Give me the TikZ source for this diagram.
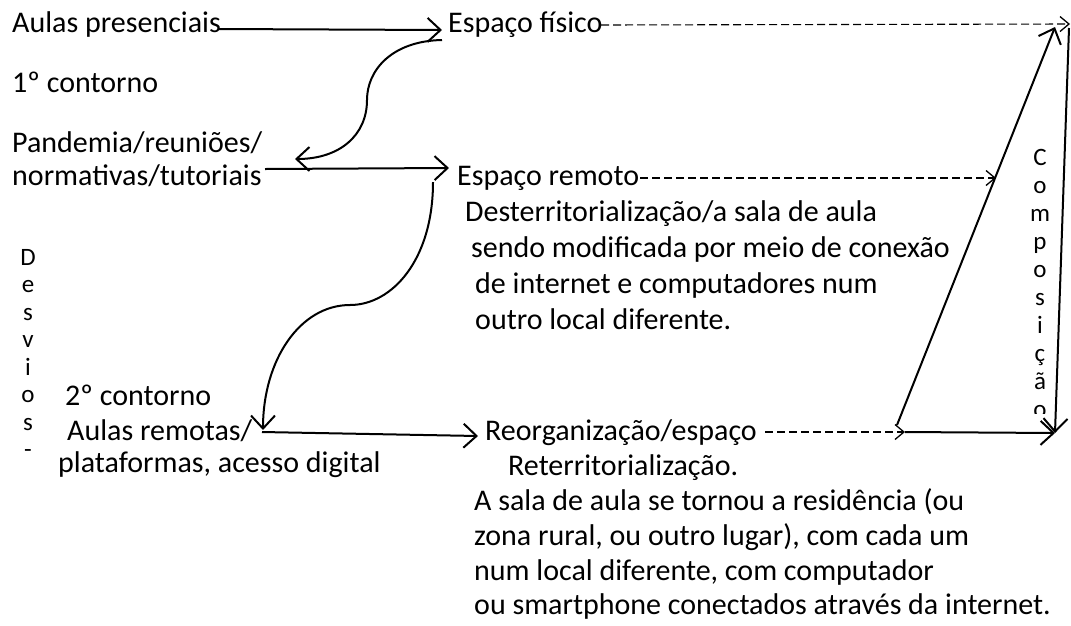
\documentclass[tikz,border=0pt]{standalone}
\usepackage{fontspec}
\setmainfont{Carlito}
\usetikzlibrary{arrows.meta}
\begin{document}
\begin{tikzpicture}[x=1pt,y=-1pt,
  txt/.style={anchor=base west,inner sep=0pt,font=\fontsize{30}{36}\selectfont},
  vl/.style={anchor=base,inner sep=0pt,font=\fontsize{25}{30}\selectfont},
  arr/.style={line width=2pt,-{Straight Barb[length=13pt,width=24pt,line width=2pt]}},
  darr/.style={line width=1.1pt,dash pattern=on 8pt off 4pt,-{Straight Barb[length=9pt,width=15pt,line width=1.3pt,sep=0pt]}}]
\useasboundingbox (0,0) rectangle (1071,625);
% texts
\node[txt] (aulas) at (12,32) {Aulas presenciais};
\node[txt] (fisico) at (448,32) {Espaço físico};
\node[txt] (c1) at (12,92) {1º contorno};
\node[txt] (pand1) at (12,152) {Pandemia/reuniões/};
\node[txt] (pand2) at (12,185) {normativas/tutoriais};
\node[txt] (remoto) at (457,185) {Espaço remoto};
\node[txt] (d1) at (465,221) {Desterritorialização/a sala de aula};
\node[txt] (d2) at (471,257) {sendo modificada por meio de conexão};
\node[txt] (d3) at (475,293) {de internet e computadores num};
\node[txt] (d4) at (475,329) {outro local diferente.};
\node[txt] (c2) at (65,405) {2º contorno};
\node[txt] (ar1) at (67,440) {Aulas remotas/};
\node[txt] (ar2) at (58,472) {plataformas, acesso digital};
\node[txt] (reorg) at (485,440) {Reorganização/espaço};
\node[txt] (r0) at (508,475) {Reterritorialização.};
\node[txt] (r1) at (474,510) {A sala de aula se tornou a residência (ou};
\node[txt] (r2) at (474,545) {zona rural, ou outro lugar), com cada um};
\node[txt] (r3) at (474,580) {num local diferente, com computador};
\node[txt] (r4) at (474,614) {ou smartphone conectados através da internet.};
% vertical labels
\begin{scope}
\clip (0,200) rectangle (50,450);
\foreach \ch [count=\i from 0] in {D,e,s,v,i,o,s,-}
  \node[vl] (desv\i) at (28,{265+27.5*\i}) {\ch};
\end{scope}
\begin{scope}
\clip (1020,140) rectangle (1060,413);
\foreach \ch [count=\i from 0] in {C,o,m,p,o,s,i,ç,ã,o}
  \node[vl] (comp\i) at (1040,{165+28*\i}) {\ch};
\end{scope}
% coordinates
\coordinate (aulasE) at (218,29);
\coordinate (fisicoW) at (442,30);
\coordinate (fisicoS) at (442,40);
\coordinate (pandE) at (295,159);
\coordinate (pand2E) at (265,169);
\coordinate (remotoW) at (449,168);
\coordinate (remotoS) at (433,182);
\coordinate (ar1N) at (263,430);
\coordinate (ar1E) at (262,432);
\coordinate (reorgW) at (478,436);
\coordinate (fisDashS) at (601,25);
\coordinate (fisDashEnd) at (1070,24);
\coordinate (remDashS) at (640,178);
\coordinate (remDashEnd) at (996,178);
\coordinate (reoDashS) at (765,432);
\coordinate (reoDashEnd) at (905,432);
\coordinate (kA) at (897,425);
\coordinate (kTop) at (1055,27);
\coordinate (kR) at (1069,28);
\coordinate (kBot) at (1055,433);
% connectors
\draw[arr] (aulasE) -- (fisicoW);
\draw[arr] (pand2E) -- (remotoW);
\draw[arr] (ar1E) -- (reorgW);
\draw[arr] (fisicoS) .. controls (392,41) and (367,70) .. (367,100) .. controls (367,135) and (340,159) .. (pandE);
\draw[arr] (remotoS) .. controls (433,260) and (392,305) .. (350,305) .. controls (300,305) and (263,360) .. (ar1N);
\draw[darr] (fisDashS) -- (fisDashEnd);
\draw[darr] (remDashS) -- (remDashEnd);
\draw[darr] (reoDashS) -- (reoDashEnd);
\draw[arr] (kA) -- (kTop);
\draw[arr] (reoDashEnd) -- (kBot);
\draw[arr] (kR) -- (kBot);
\end{tikzpicture}
\end{document}
